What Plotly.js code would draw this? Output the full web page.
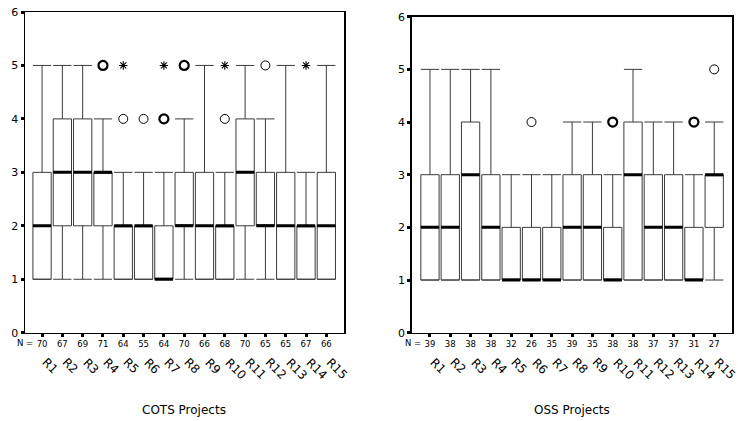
<!DOCTYPE html>
<html>
<head>
<meta charset="utf-8">
<script src="https://cdn.plot.ly/plotly-3.0.1.min.js"></script>
<style>html,body{margin:0;padding:0;background:#fff;}#chart{width:738px;height:421px;}</style>
</head>
<body>
<div id="chart"></div>
<script>
// ---- Data ----
const categories = ["R1","R2","R3","R4","R5","R6","R7","R8","R9","R10","R11","R12","R13","R14","R15"];

// COTS projects
const cotsN      = [70,67,69,71,64,55,64,70,66,68,70,65,65,67,66];
const cotsLower  = [1,1,1,1,1,1,1,1,1,1,1,1,1,1,1];
const cotsQ1     = [1,2,2,2,1,1,1,2,1,1,2,2,1,1,1];
const cotsMedian = [2,3,3,3,2,2,1,2,2,2,3,2,2,2,2];
const cotsQ3     = [3,4,4,3,2,2,2,3,3,2,4,3,3,2,3];
const cotsUpper  = [5,5,5,4,3,3,3,4,5,3,5,4,5,3,5];
// outliers
const cotsCircleX = ["R4","R5","R6","R7","R8","R10","R12"];
const cotsCircleY = [5,4,4,4,5,4,5];
const cotsCircleBold = [true,false,false,true,true,false,false];
const cotsStarX = ["R5","R7","R10","R14"];
const cotsStarY = [5,5,5,5];

// OSS projects
const ossN      = [39,38,38,38,32,26,35,39,35,38,38,37,37,31,27];
const ossLower  = [1,1,1,1,1,1,1,1,1,1,1,1,1,1,1];
const ossQ1     = [1,1,1,1,1,1,1,1,1,1,1,1,1,1,2];
const ossMedian = [2,2,3,2,1,1,1,2,2,1,3,2,2,1,3];
const ossQ3     = [3,3,4,3,2,2,2,3,3,2,4,3,3,2,3];
const ossUpper  = [5,5,5,5,3,3,3,4,4,3,5,4,4,3,4];
const ossCircleX = ["R6","R10","R14","R15"];
const ossCircleY = [4,4,4,5];
const ossCircleBold = [false,true,true,false];

const panelTitles = ["COTS Projects","OSS Projects"];
const yTicks = [0,1,2,3,4,5,6];

// ---- Build ----
const FONT = "DejaVu Sans, Verdana, sans-serif";
const idx = c => categories.indexOf(c);
const xs = categories.map((c,i)=>i);

function panel(suffix, q1, med, q3, lo, up, circX, circY, circBold, starX, starY) {
  const xa = 'x'+suffix, ya = 'y'+suffix;
  const tr = [];
  tr.push({
    type:'box', xaxis:xa, yaxis:ya, x: xs,
    q1:q1, median:med, q3:q3, lowerfence:lo, upperfence:up,
    width:0.9, whiskerwidth:1,
    fillcolor:'#ffffff', line:{color:'#3a3a3a', width:1},
    boxpoints:false, hoverinfo:'skip', showlegend:false
  });
  tr.push({
    type:'scatter', mode:'markers', xaxis:xa, yaxis:ya, x: xs, y: med,
    marker:{symbol:'line-ew-open', size:13, color:'#000', line:{color:'#000', width:3}},
    hoverinfo:'skip', showlegend:false
  });
  tr.push({
    type:'scatter', mode:'markers', xaxis:xa, yaxis:ya,
    x: circX.map(idx), y: circY,
    marker:{symbol:'circle-open', size:9, color:'#000',
            line:{color:'#000', width: circBold.map(b=> b?2.2:1)}},
    hoverinfo:'skip', showlegend:false
  });
  if (starX) tr.push({
    type:'scatter', mode:'markers', xaxis:xa, yaxis:ya,
    x: starX.map(idx), y: starY,
    marker:{symbol:'asterisk-open', size:7, color:'#000', line:{color:'#000', width:1.1}},
    hoverinfo:'skip', showlegend:false
  });
  return tr;
}

const data = [].concat(
  panel('', cotsQ1, cotsMedian, cotsQ3, cotsLower, cotsUpper, cotsCircleX, cotsCircleY, cotsCircleBold, cotsStarX, cotsStarY),
  panel('2', ossQ1, ossMedian, ossQ3, ossLower, ossUpper, ossCircleX, ossCircleY, ossCircleBold, null, null)
);

const W = 738, H = 421;
function xaxisDef(l, r, anchor, nArr, range) {
  return {
    domain:[l/W, r/W], anchor:anchor, range:range,
    tickmode:'array', tickvals:xs, ticktext:nArr.map(String),
    ticks:'outside', ticklen:3, tickwidth:3, tickcolor:'#000',
    tickfont:{family:FONT, size:8.5, color:'#000'},
    showline:true, mirror:true, linecolor:'#000', linewidth:1.5,
    showgrid:false, zeroline:false, automargin:false, fixedrange:true
  };
}
function yaxisDef(t, b, anchor) {
  return {
    domain:[1-b/H, 1-t/H], anchor:anchor, range:[0,6],
    tickmode:'array', tickvals:yTicks, ticktext:yTicks.map(String),
    ticks:'outside', ticklen:3, tickwidth:3, tickcolor:'#000',
    tickfont:{family:FONT, size:11, color:'#000'},
    showline:true, mirror:true, linecolor:'#000', linewidth:1.5,
    showgrid:false, zeroline:false, automargin:false, fixedrange:true
  };
}

const annotations = [];
function labels(xref, nX, titleX) {
  categories.forEach((c,i)=>{
    annotations.push({
      xref:xref, yref:'paper', x:i, y:1-354/H, xanchor:'left', yanchor:'top',
      xshift:-4, text:c, textangle:45, showarrow:false, borderpad:0,
      font:{family:FONT, size:12, color:'#000'}
    });
  });
  annotations.push({xref:'paper', yref:'paper', x:nX/W, y:1-343/H, xanchor:'center', yanchor:'middle',
    text:'N =', showarrow:false, font:{family:FONT, size:8.5, color:'#000'}});
  annotations.push({xref:'paper', yref:'paper', x:titleX/W, y:1-410/H, xanchor:'center', yanchor:'middle',
    text:panelTitles[xref==='x'?0:1], showarrow:false, font:{family:FONT, size:12, color:'#000'}});
}
labels('x', 24.5, 184);
labels('x2', 412.5, 571.5);

const layout = {
  width:W, height:H, margin:{l:0,r:0,t:0,b:0},
  paper_bgcolor:'#fff', plot_bgcolor:'#fff',
  showlegend:false,
  xaxis: xaxisDef(25, 344, 'y', cotsN, [-0.84, 14.87]),
  yaxis: yaxisDef(12, 332.7, 'x'),
  xaxis2: xaxisDef(411.7, 732.3, 'y2', ossN, [-0.9, 14.89]),
  yaxis2: yaxisDef(16.7, 332.7, 'x2'),
  annotations: annotations,
  font:{family:FONT}
};

Plotly.newPlot('chart', data, layout, {staticPlot:true, displayModeBar:false});
</script>
</body>
</html>
